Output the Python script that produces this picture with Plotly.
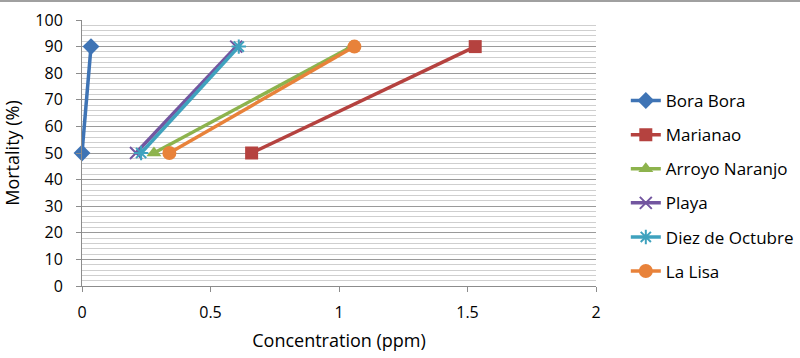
import plotly.graph_objects as go

series_names = ["Bora Bora", "Marianao", "Arroyo Naranjo", "Playa", "Diez de Octubre", "La Lisa"]
conc_bora = [0.0, 0.035]
conc_marianao = [0.66, 1.53]
conc_arroyo = [0.28, 1.05]
conc_playa = [0.21, 0.60]
conc_diez = [0.23, 0.61]
conc_lisa = [0.34, 1.06]
mortality = [50, 90]

colors = ["#3F74B5", "#B5423F", "#8DB34D", "#7356A0", "#3FA2BE", "#E8823A"]
symbols = ["diamond", "square", "triangle-up", "x-thin", "asterisk", "circle"]
sizes = [13, 13, 13, 12, 12, 14]
xs = [conc_bora, conc_marianao, conc_arroyo, conc_playa, conc_diez, conc_lisa]

fig = go.Figure()
for i, (name, x, c, s, sz) in enumerate(zip(series_names, xs, colors, symbols, sizes)):
    open_sym = s in ("x-thin", "asterisk")
    fig.add_trace(go.Scatter(
        x=x, y=mortality, name=name, mode="lines+markers",
        legendgroup=f"g{i}", cliponaxis=False,
        line=dict(color=c, width=3.5),
        marker=dict(symbol=s, size=sz, color=c,
                    line=dict(color=c, width=2 if open_sym else 0)),
    ))

font = "Open Sans, DejaVu Sans, sans-serif"
fig.update_layout(
    width=800, height=358,
    margin=dict(l=82, r=204, t=20, b=72, autoexpand=False),
    paper_bgcolor="white", plot_bgcolor="white",
    font=dict(family=font, size=15, color="#000000"),
    showlegend=True,
    legend=dict(x=1.058, y=0.376, xanchor="left", yanchor="middle",
                font=dict(size=17), tracegroupgap=9,
                bgcolor="rgba(0,0,0,0)"),
    xaxis=dict(range=[0, 2], tickvals=[0, 0.5, 1, 1.5, 2],
               ticktext=["0", "0.5", "1", "1.5", "2"],
               tickfont=dict(size=16), ticklabelstandoff=7,
               showgrid=False, zeroline=False, automargin=False,
               showline=True, linecolor="#8c8c8c", linewidth=1,
               ticks="outside", ticklen=5, tickcolor="#8c8c8c",
               title=dict(text="Concentration (ppm)", standoff=12),
               fixedrange=True),
    yaxis=dict(range=[0, 100], tickvals=list(range(0, 101, 10)),
               tickfont=dict(size=16), ticklabelstandoff=10,
               showgrid=True, gridcolor="#9a9a9a", gridwidth=1,
               minor=dict(dtick=2, showgrid=True, gridcolor="#cfcfcf", gridwidth=1),
               zeroline=False, automargin=False,
               showline=True, linecolor="#8c8c8c", linewidth=1,
               ticks="outside", ticklen=5, tickcolor="#8c8c8c",
               title=dict(text="Mortality (%)", standoff=12),
               fixedrange=True),
)
fig.add_shape(type="line", xref="paper", yref="paper", x0=-0.2, x1=1.5,
              y0=1 + 19/266, y1=1 + 19/266,
              line=dict(color="#a0a0a0", width=2))
fig.write_html("out.html", config={"displayModeBar": False},
               post_script="document.body.style.margin='0';")
